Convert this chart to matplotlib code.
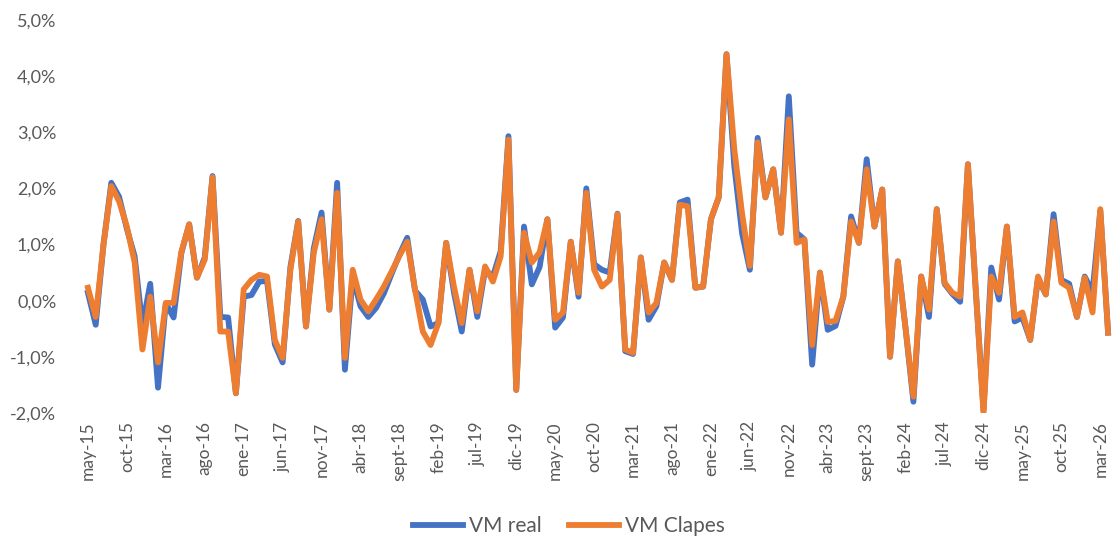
import matplotlib
matplotlib.use("Agg")
import matplotlib.pyplot as plt
from matplotlib.ticker import FuncFormatter

# meses: may-15 .. abr-26
meses = ["ene", "feb", "mar", "abr", "may", "jun", "jul", "ago", "sept", "oct", "nov", "dic"]
etiquetas = []
for k in range(132):
    m = (4 + k) % 12
    a = 15 + (4 + k) // 12
    etiquetas.append(f"{meses[m]}-{a:02d}")

# variacion mensual (%)
vm_real = [
    0.14, -0.43, 1.00, 2.10, 1.85, 1.28, 0.79, -0.45, 0.30, -1.55,
    -0.05, -0.30, 0.85, 1.36, 0.41, 0.77, 2.22, -0.29, -0.30, -1.65,
    0.07, 0.10, 0.34, 0.35, -0.78, -1.10, 0.60, 1.42, -0.46, 0.93,
    1.57, -0.16, 2.10, -1.23, 0.42, -0.10, -0.29, -0.13, 0.13, 0.48,
    0.82, 1.12, 0.18, 0.02, -0.46, -0.40, 1.03, 0.15, -0.55, 0.55,
    -0.29, 0.55, 0.43, 0.88, 2.93, -1.59, 1.32, 0.29, 0.60, 1.45,
    -0.48, -0.30, 1.05, 0.07, 2.00, 0.65, 0.55, 0.50, 1.55, -0.90,
    -0.95, 0.77, -0.34, -0.10, 0.68, 0.37, 1.75, 1.80, 0.23, 0.25,
    1.45, 1.84, 4.39, 2.40, 1.20, 0.55, 2.90, 1.84, 2.34, 1.21,
    3.64, 1.21, 1.09, -1.14, 0.50, -0.52, -0.45, 0.07, 1.50, 1.03,
    2.52, 1.32, 1.98, -1.00, 0.70, -0.50, -1.80, 0.43, -0.29, 1.63,
    0.30, 0.12, -0.02, 2.43, 0.20, -1.95, 0.59, 0.02, 1.32, -0.37,
    -0.30, -0.70, 0.40, 0.11, 1.54, 0.37, 0.30, -0.29, 0.43, 0.15,
    1.60, -0.57,
]
vm_clapes = [
    0.23, -0.29, 1.00, 2.04, 1.77, 1.32, 0.68, -0.87, 0.07, -1.10,
    -0.04, -0.04, 0.87, 1.36, 0.41, 0.73, 2.20, -0.55, -0.55, -1.65,
    0.20, 0.37, 0.46, 0.43, -0.70, -1.02, 0.55, 1.41, -0.46, 0.85,
    1.45, -0.16, 1.92, -1.02, 0.55, 0.02, -0.19, 0.02, 0.25, 0.52,
    0.80, 1.05, 0.20, -0.55, -0.79, -0.40, 1.03, 0.25, -0.40, 0.55,
    -0.19, 0.61, 0.34, 0.79, 2.87, -1.59, 1.21, 0.68, 0.86, 1.45,
    -0.34, -0.21, 1.05, 0.14, 1.92, 0.55, 0.25, 0.37, 1.54, -0.87,
    -0.93, 0.77, -0.21, -0.04, 0.68, 0.37, 1.71, 1.68, 0.23, 0.25,
    1.45, 1.84, 4.39, 2.70, 1.55, 0.62, 2.82, 1.84, 2.34, 1.21,
    3.23, 1.03, 1.09, -0.79, 0.50, -0.38, -0.36, 0.07, 1.41, 1.03,
    2.34, 1.32, 1.98, -1.00, 0.70, -0.50, -1.71, 0.43, -0.16, 1.63,
    0.32, 0.14, 0.07, 2.43, 0.20, -2.00, 0.43, 0.14, 1.32, -0.29,
    -0.21, -0.70, 0.43, 0.11, 1.41, 0.32, 0.23, -0.29, 0.41, -0.21,
    1.63, -0.57,
]

plt.rcParams['font.family'] = ['Lato', 'DejaVu Sans']
gris = "#595959"

fig = plt.figure(figsize=(11.16, 5.55), dpi=100)
ax = fig.add_axes([0.0753, 0.256, 0.9211, 0.708])

x = list(range(len(etiquetas)))
ax.plot(x, [v / 100 for v in vm_real], color="#4472C4", lw=4.2,
        solid_joinstyle="round", label="VM real")
ax.plot(x, [v / 100 for v in vm_clapes], color="#ED7D31", lw=4.2,
        solid_joinstyle="round", label="VM Clapes")

ax.set_xlim(-0.5, len(x) - 0.5)
ax.set_ylim(-0.02, 0.05)
ax.set_yticks([-0.02, -0.01, 0, 0.01, 0.02, 0.03, 0.04, 0.05])
ax.yaxis.set_major_formatter(FuncFormatter(lambda v, p: f"{v*100:.1f}%".replace(".", ",")))
ax.set_xticks(x[::5])
ax.set_xticklabels(etiquetas[::5], rotation=90)

for s in ax.spines.values():
    s.set_visible(False)
ax.tick_params(axis="both", length=0, colors=gris, labelsize=13)
ax.tick_params(axis="y", pad=20)
ax.tick_params(axis="x", pad=6, labelsize=12.5)

fig.legend(loc="lower center", bbox_to_anchor=(0.51, 0.0), ncol=2, frameon=False,
           fontsize=15, handlelength=2.4, handletextpad=0.3, columnspacing=1.3,
           labelcolor=gris)

fig.savefig("out.png", dpi=100)
